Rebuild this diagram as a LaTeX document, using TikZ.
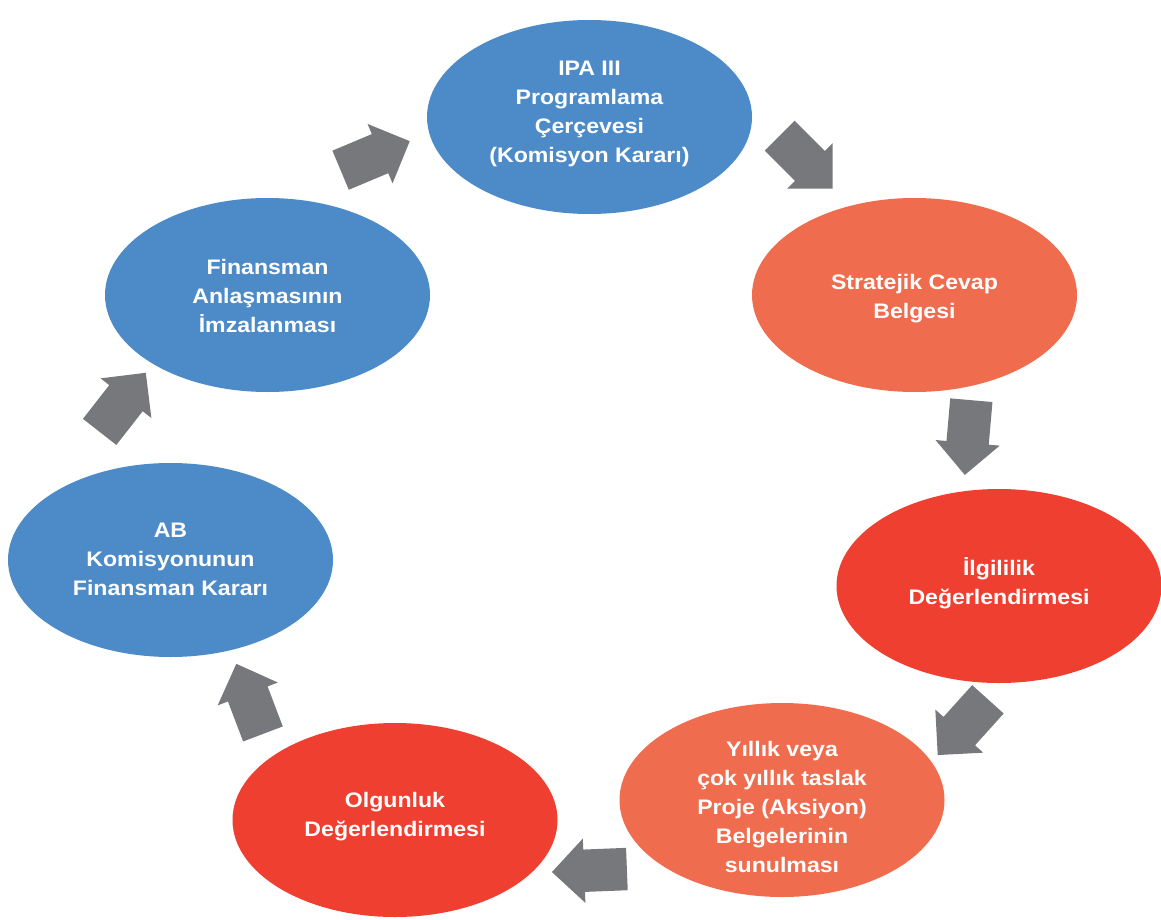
\documentclass[tikz,border=0pt]{standalone}
\usepackage{fontspec}
\newfontfamily\lblfont{Liberation Sans}[FakeStretch=1.1]
\usetikzlibrary{shapes.geometric,shapes.arrows}
\definecolor{cblue}{HTML}{4D8BC8}
\definecolor{corange}{HTML}{F06C4F}
\definecolor{cred}{HTML}{EE3F31}
\definecolor{cgray}{HTML}{77787B}
\begin{document}
\begin{tikzpicture}[x=1pt,y=-1pt,
  bubble/.style={ellipse, minimum width=325pt, minimum height=194pt, inner sep=0pt, draw=none},
  lbl/.style={text=white, align=center, inner sep=0pt, font=\lblfont\bfseries\fontsize{21}{29}\selectfont},
  garrow/.style={single arrow, fill=cgray, draw=none, minimum height=75pt,
    inner xsep=0pt, inner ysep=21pt, text height=0pt, text depth=0pt, text width=0pt,
    single arrow head extend=11pt, single arrow tip angle=90, outer sep=0pt}]
\useasboundingbox (0,0) rectangle (1161,920);
% bubbles
\node[bubble, fill=cblue]   (e1) at (589.5,117) {};
\node[bubble, fill=corange] (e2) at (914.5,295) {};
\node[bubble, fill=cred]    (e3) at (999,586) {};
\node[bubble, fill=corange] (e4) at (782,800) {};
\node[bubble, fill=cred]    (e5) at (395,820) {};
\node[bubble, fill=cblue]   (e6) at (170.5,560) {};
\node[bubble, fill=cblue]   (e7) at (267.5,295) {};
% labels
\node[lbl] (t1) at (589.5,113.5) {IPA III\\Programlama\\Çerçevesi\\(Komisyon Kararı)};
\node[lbl] (t2) at (914.5,298.5) {Stratejik Cevap\\Belgesi};
\node[lbl] (t3) at (999,583.5) {İlgililik\\Değerlendirmesi};
\node[lbl] (t4) at (782,807) {Yıllık veya\\çok yıllık taslak\\Proje (Aksiyon)\\Belgelerinin\\sunulması};
\node[lbl] (t5) at (395,817) {Olgunluk\\Değerlendirmesi};
\node[lbl] (t6) at (170.5,559) {AB\\Komisyonunun\\Finansman Kararı};
\node[lbl] (t7) at (267.5,296) {Finansman\\Anlaşmasının\\İmzalanması};
% block arrows
\node[garrow, rotate=22.8]   (a1) at (365.4,159.8) {};
\node[garrow, rotate=-45]    (a2) at (798.7,154.7) {};
\node[garrow, rotate=-95]    (a3) at (969,427) {};
\node[garrow, rotate=-132]   (a4) at (969.9,719.3) {};
\node[garrow, rotate=-177.7] (a5) at (600,870.1) {};
\node[garrow, rotate=110.8]  (a6) at (253.4,708.8) {};
\node[garrow, rotate=52]     (a7) at (116.2,410.7) {};
\end{tikzpicture}
\end{document}
